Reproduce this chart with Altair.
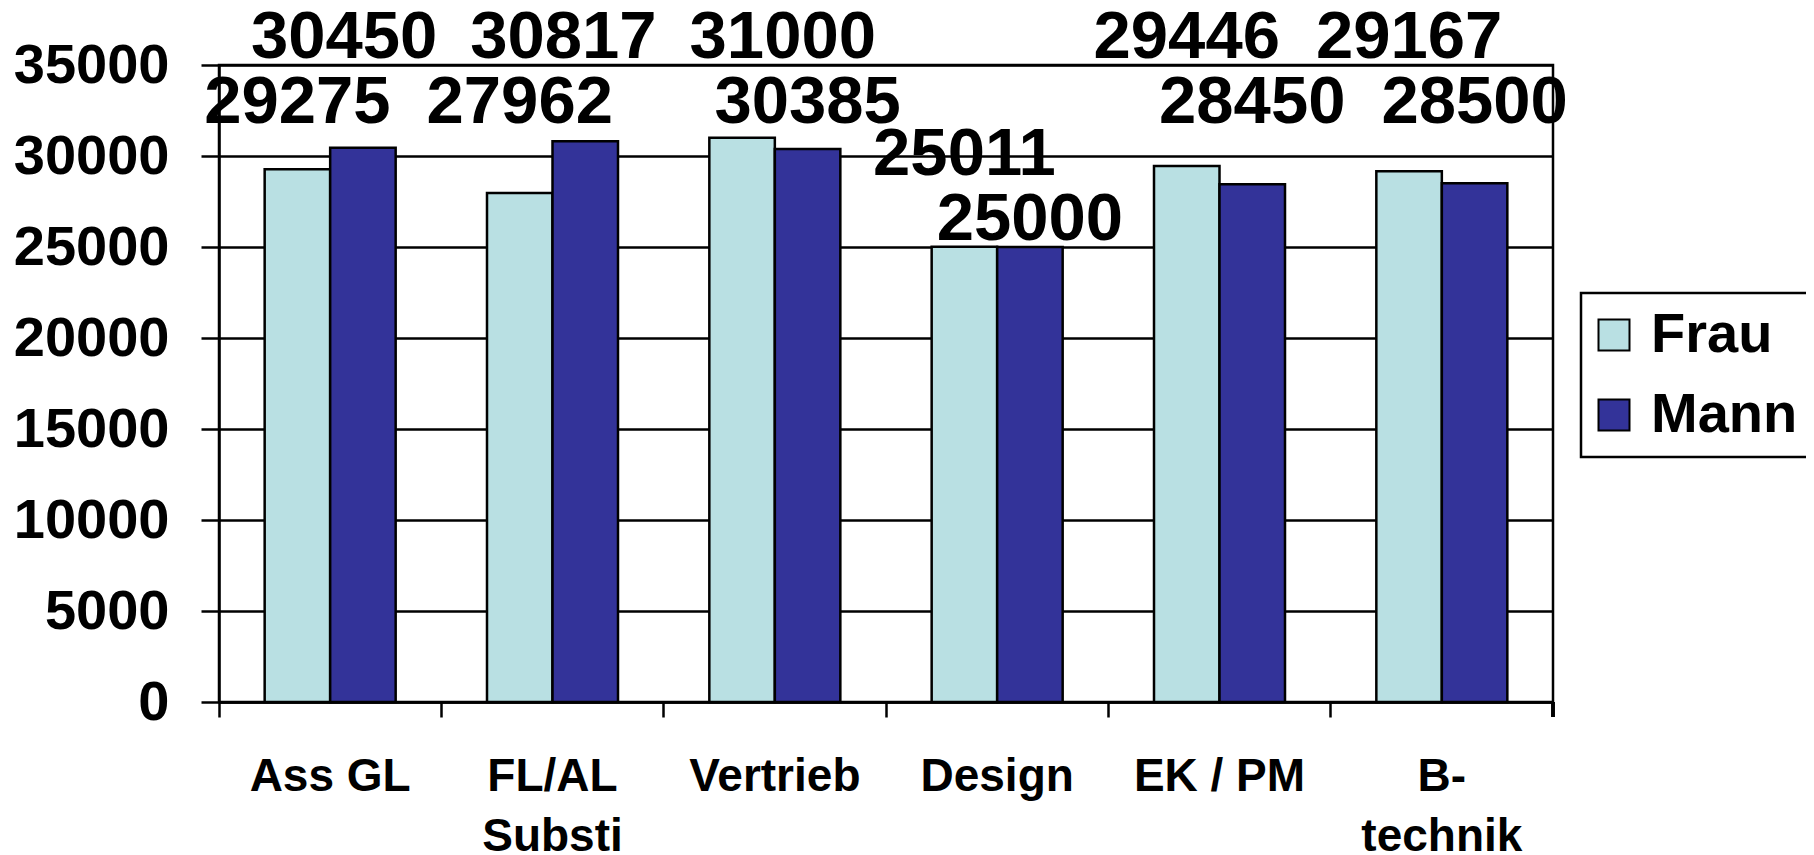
import altair as alt
import pandas as pd

# ---- data ----
categories = ["Ass GL", "FL/AL\nSubsti", "Vertrieb", "Design", "EK / PM", "B-\ntechnik"]
series = ["Frau", "Mann"]
frau = [29275, 27962, 31000, 25011, 29446, 29167]
mann = [30450, 30817, 30385, 25000, 28450, 28500]
colors = ["#B9E0E3", "#333399"]
y_ticks = [0, 5000, 10000, 15000, 20000, 25000, 30000, 35000]

FONT = "Liberation Sans"
W, H = 1334, 637
YMAX = 35000
px = YMAX / H                 # data units per pixel
pad = 7 * px                  # label gap above a bar
row = 65 * px                 # height of one label row
top_row = YMAX + 7 * px       # row just above the plot frame
step_px = W / len(categories)
pair_frac = 131 / step_px     # share of a category taken by its two bars
label_w = 186 / step_px + 0.15  # label width in category units (+ margin)

rows = []
for i, c in enumerate(categories):
    vals = {"Frau": frau[i], "Mann": mann[i]}
    lo_s = min(vals, key=vals.get)
    hi_s = max(vals, key=vals.get)
    lo_y = vals[lo_s] + pad
    hi_y = max(vals[hi_s] + pad, lo_y + row)
    if hi_y + row > YMAX:  # stack would cross the frame: push against top
        hi_y = top_row
        lo_y = top_row - row
    ly = {lo_s: lo_y, hi_s: hi_y}
    for k, s in enumerate(series):
        lx = i + 0.5 + (k - 0.5) * pair_frac / 2
        rows.append({"cat": c, "series": s, "value": vals[s],
                     "label_y": ly[s], "label_x": lx})
df = pd.DataFrame(rows)

# push apart labels of the same row that would collide (iterative relaxation)
for _ in range(60):
    moved = False
    for _, grp in df.groupby(df["label_y"].round(0)):
        idx = list(grp.sort_values("label_x").index)
        for a, b in zip(idx, idx[1:]):
            d = df.at[b, "label_x"] - df.at[a, "label_x"]
            if d < label_w - 1e-6:
                sh = (label_w - d) / 2
                df.at[a, "label_x"] -= sh
                df.at[b, "label_x"] += sh
                moved = True
    if not moved:
        break

yscale = alt.Scale(domain=[0, YMAX], nice=False, zero=True)
xscale = alt.Scale(paddingInner=0, paddingOuter=0)
off_pad = (2 / pair_frac - 2) / 2

y_axis = alt.Axis(values=y_ticks, format="d", tickSize=18, labelPadding=32,
                  labelFontSize=56, labelFont=FONT, labelFontWeight="bold",
                  labelColor="black", domainColor="black", domainWidth=2.5,
                  tickColor="black", tickWidth=2.5, grid=True, gridColor="black",
                  gridWidth=2.5, gridOpacity=1, title=None)

base = alt.Chart(df)

bars = base.mark_bar(stroke="black", strokeWidth=2.5).encode(
    x=alt.X("cat:N", sort=categories, scale=xscale, title=None,
            axis=alt.Axis(labelAngle=0, bandPosition=0, tickSize=15, labelPadding=37,
                          labelFontSize=46, labelFont=FONT, labelFontWeight="bold",
                          labelColor="black", labelLineHeight=60,
                          labelExpr="split(datum.label, '\\n')",
                          domainColor="black", domainWidth=2.5, tickColor="black",
                          tickWidth=2.5, grid=False)),
    xOffset=alt.XOffset("series:N", sort=series,
                        scale=alt.Scale(paddingInner=0, paddingOuter=off_pad)),
    y=alt.Y("value:Q", scale=yscale, title=None, axis=y_axis),
    color=alt.Color("series:N", sort=series,
                    scale=alt.Scale(domain=series, range=colors),
                    legend=alt.Legend(title=None, orient="none", legendX=1362, legendY=228,
                                      symbolType="square", symbolSize=961,
                                      symbolStrokeColor="black", symbolStrokeWidth=2,
                                      labelFontSize=56, labelFont=FONT,
                                      labelFontWeight="bold", labelColor="black",
                                      symbolOffset=-9, labelOffset=9, rowPadding=24,
                                      padding=14, strokeColor="black", fillColor="white",
                                      symbolOpacity=1)),
)

labels = base.mark_text(baseline="alphabetic", align="center", fontSize=67,
                        fontWeight="bold", font=FONT, color="black").encode(
    x=alt.X("label_x:Q", scale=alt.Scale(domain=[0, len(categories)], nice=False, zero=False),
            axis=None),
    y=alt.Y("label_y:Q", scale=yscale, title=None, axis=y_axis),
    text=alt.Text("value:Q", format="d"),
)

end_tick = base.mark_rule(color="black", strokeWidth=2.5).encode(
    x=alt.value(W), y=alt.value(H), y2=alt.value(H + 15)
)

chart = alt.layer(bars, labels, end_tick).resolve_scale(x="independent").properties(
    width=W, height=H,
    autosize=alt.AutoSizeParams(type="none"),
    padding={"left": 211, "top": 57, "right": 253, "bottom": 150},
).configure_view(stroke="black", strokeWidth=2.5).configure_legend(strokeWidth=2.5)

chart.save("out.html", embed_options={"renderer": "svg", "actions": False})
